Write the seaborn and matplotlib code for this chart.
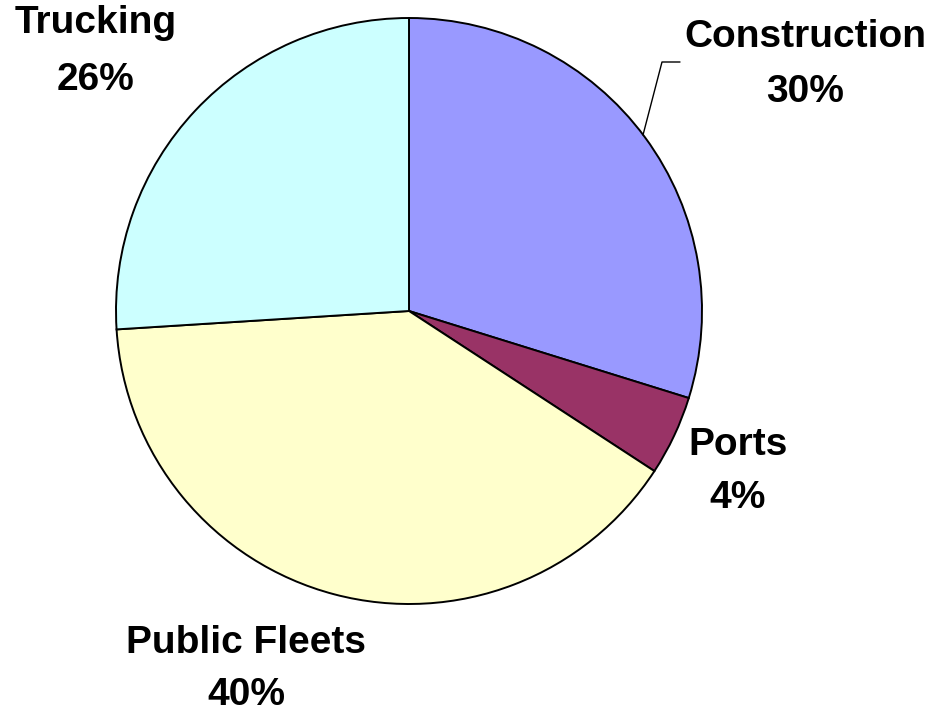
import matplotlib
matplotlib.use("Agg")
import matplotlib.pyplot as plt
import seaborn as sns

sns.set_theme(style="white")
plt.rcParams['font.family'] = ['Liberation Sans', 'DejaVu Sans']

categories = ["Construction", "Ports", "Public Fleets", "Trucking"]
values = [29.8, 4.4, 39.8, 26.0]
colors = ["#9999FF", "#993366", "#FFFFCC", "#CCFFFF"]

W, H = 936, 710
fig = plt.figure(figsize=(W / 100, H / 100), dpi=100)
ax = fig.add_axes([0, 0, 1, 1])

cx, cy, r = 409, H - 311, 293
ax.pie(values, colors=colors, startangle=90, counterclock=False,
       center=(cx, cy), radius=r, frame=True,
       wedgeprops=dict(edgecolor="black", linewidth=1.4))
ax.set_xlim(0, W)
ax.set_ylim(0, H)
ax.set_aspect("equal")
ax.axis("off")

# label baselines (pixel coords from top) and centers
label_pos = {
    "Construction": (805, 47, 102),
    "Ports": (738, 455, 508),
    "Public Fleets": (246, 653, 705),
    "Trucking": (96, 33, 90),
}
total = sum(values)
for cat, val in zip(categories, values):
    x, b1, b2 = label_pos[cat]
    ax.text(x, H - b1, cat, ha="center", va="baseline", fontsize=28,
            fontweight="bold", color="black")
    ax.text(x, H - b2, f"{round(val / total * 100):.0f}%", ha="center",
            va="baseline", fontsize=28, fontweight="bold", color="black")

# leader line for Construction
ax.plot([643, 662, 680], [H - 135, H - 62, H - 62], color="black", lw=1.0)

fig.savefig("out.png", dpi=100, facecolor="white")
